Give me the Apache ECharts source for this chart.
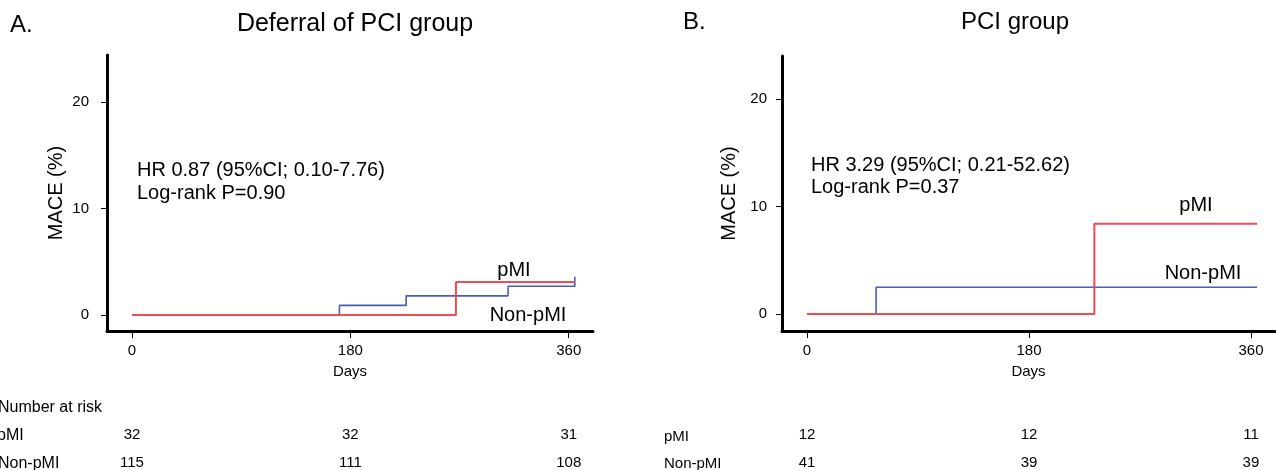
<!DOCTYPE html>
<html>
<head>
<meta charset="utf-8">
<script src="https://cdn.jsdelivr.net/npm/echarts@6/dist/echarts.min.js"></script>
<style>
html,body{margin:0;padding:0;background:#fff;}
#chart{width:1276px;height:470px;}
</style>
</head>
<body>
<div id="chart"></div>
<script>
// ---- data ----
var xTicks = [0, 180, 360];
var yTicks = [0, 10, 20];
var riskDays = [0, 180, 360];

// Panel A: Deferral of PCI group  [day, MACE %]
var A_pMI = [[0, 0], [267, 3.1], [365, 3.1]];
var A_nonPMI = [[0, 0], [171, 0.9], [226, 1.8], [310, 2.7], [365, 3.6]];
var A_risk_pMI = [32, 32, 31];
var A_risk_nonPMI = [115, 111, 108];

// Panel B: PCI group
var B_pMI = [[0, 0], [233, 8.4], [365, 8.4]];
var B_nonPMI = [[0, 0], [56, 2.5], [365, 2.5]];
var B_risk_pMI = [12, 12, 11];
var B_risk_nonPMI = [41, 39, 39];

var FONT = '"Liberation Sans", Arial, sans-serif';
var RED = '#ef4b57';
var BLUE = '#4a5db0';

function mainX(gridIndex, min, max) {
  return {
    type: 'value', gridIndex: gridIndex, min: min, max: max,
    position: 'bottom',
    name: 'Days', nameLocation: 'middle', nameGap: 33,
    nameTextStyle: {fontFamily: FONT, fontSize: 15, color: '#000'},
    axisLine: {show: true, onZero: false, lineStyle: {color: '#000', width: 3}},
    axisTick: {show: true, customValues: xTicks, length: 7, lineStyle: {color: '#000', width: 1}},
    axisLabel: {show: true, customValues: xTicks, fontFamily: FONT, fontSize: 15, color: '#000', margin: 12},
    splitLine: {show: false}
  };
}
function riskX(gridIndex, min, max, values, offset) {
  return {
    type: 'value', gridIndex: gridIndex, min: min, max: max,
    position: 'bottom', offset: offset,
    axisLine: {show: false}, axisTick: {show: false}, splitLine: {show: false},
    axisLabel: {show: true, customValues: riskDays, margin: 0,
      fontFamily: FONT, fontSize: 15, color: '#000',
      formatter: function (v) { var i = riskDays.indexOf(v); return i >= 0 ? String(values[i]) : ''; }}
  };
}
function mainY(gridIndex, min, max, gap, margin) {
  return {
    type: 'value', gridIndex: gridIndex, min: min, max: max,
    name: 'MACE (%)', nameLocation: 'middle', nameGap: gap,
    nameTextStyle: {fontFamily: FONT, fontSize: 20, color: '#000'},
    axisLine: {show: true, onZero: false, lineStyle: {color: '#000', width: 3}},
    axisTick: {show: true, customValues: yTicks, length: 6, lineStyle: {color: '#000', width: 1}},
    axisLabel: {show: true, customValues: yTicks, fontFamily: FONT, fontSize: 15, color: '#000', margin: margin},
    splitLine: {show: false}
  };
}
function stepLine(name, data, xi, yi, color, width, z) {
  return {
    type: 'line', name: name, data: data, step: 'end',
    xAxisIndex: xi, yAxisIndex: yi, showSymbol: false, symbol: 'none',
    lineStyle: {color: color, width: width}, z: z, animation: false
  };
}
function txt(x, y, text, size, opts) {
  var s = {text: text, font: size + 'px ' + FONT, fill: '#000'};
  if (opts) for (var k in opts) s[k] = opts[k];
  return {type: 'text', x: x, y: y, style: s, silent: true};
}

var chart = echarts.init(document.getElementById('chart'), null, {renderer: 'canvas'});
chart.setOption({
  backgroundColor: '#fff',
  animation: false,
  grid: [
    {left: 107, top: 55, width: 486, height: 277},
    {left: 782, top: 56, width: 493, height: 276}
  ],
  xAxis: [
    mainX(0, -20.6, 380),
    riskX(0, -20.6, 380, A_risk_pMI, 96),
    riskX(0, -20.6, 380, A_risk_nonPMI, 124),
    mainX(1, -20.3, 379.5),
    riskX(1, -20.3, 379.5, B_risk_pMI, 96),
    riskX(1, -20.3, 379.5, B_risk_nonPMI, 124)
  ],
  yAxis: [
    mainY(0, -1.5, 24.4, 41, 18),
    mainY(1, -1.57, 24, 43, 15)
  ],
  series: [
    stepLine('Non-pMI', A_nonPMI, 0, 0, BLUE, 1.6, 2),
    stepLine('pMI', A_pMI, 0, 0, RED, 2, 3),
    stepLine('Non-pMI', B_nonPMI, 3, 1, BLUE, 1.6, 2),
    stepLine('pMI', B_pMI, 3, 1, RED, 2, 3)
  ],
  graphic: [
    txt(10, 13, 'A.', 24),
    txt(355, 12, 'Deferral of PCI group', 25, {align: 'center'}),
    txt(683, 10, 'B.', 24),
    txt(1015, 10, 'PCI group', 24, {align: 'center'}),
    txt(137, 159, 'HR 0.87 (95%CI; 0.10-7.76)\nLog-rank P=0.90', 20, {lineHeight: 23}),
    txt(811, 154, 'HR 3.29 (95%CI; 0.21-52.62)\nLog-rank P=0.37', 20, {lineHeight: 22}),
    txt(514, 260, 'pMI', 20, {align: 'center'}),
    txt(528, 305, 'Non-pMI', 20, {align: 'center'}),
    txt(1196, 195, 'pMI', 20, {align: 'center'}),
    txt(1203, 263, 'Non-pMI', 20, {align: 'center'}),
    txt(-2, 400, 'Number at risk', 16),
    txt(-3, 428, 'pMI', 16),
    txt(-2, 456, 'Non-pMI', 16),
    txt(664, 429, 'pMI', 15),
    txt(664, 456, 'Non-pMI', 15)
  ]
});
</script>
</body>
</html>
